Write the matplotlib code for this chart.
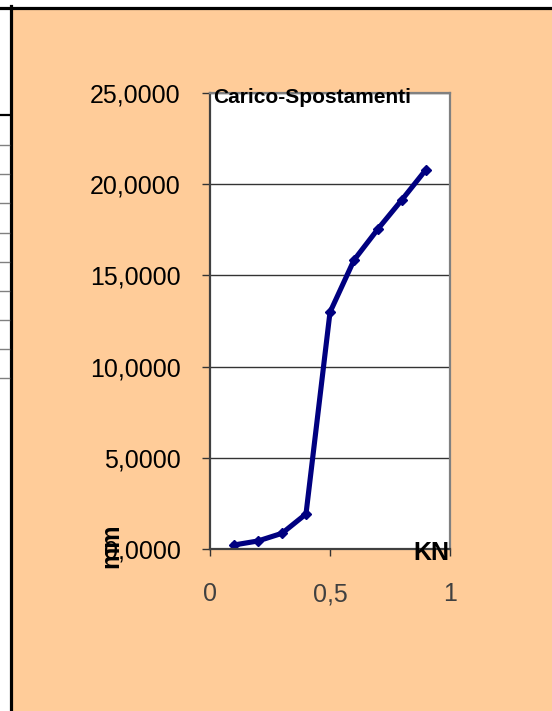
import matplotlib
matplotlib.use("Agg")
import matplotlib.pyplot as plt
from matplotlib.patches import Rectangle
from matplotlib.lines import Line2D

plt.rcParams['font.family'] = ['Liberation Sans', 'DejaVu Sans']

# data
carico = [0.1, 0.2, 0.3, 0.4, 0.5, 0.6, 0.7, 0.8, 0.9]
spostamenti = [0.22, 0.44, 0.86, 1.92, 12.98, 15.84, 17.55, 19.15, 20.8]
y_ticks = [0, 5, 10, 15, 20, 25]
y_labels = ['0,0000', '5,0000', '10,0000', '15,0000', '20,0000', '25,0000']
x_ticks = [0, 0.5, 1]
x_labels = ['0', '0,5', '1']

W, H = 552, 711
fig = plt.figure(figsize=(W / 100, H / 100), dpi=100)
fig.patch.set_facecolor('#FFCC99')

def fx(x):
    return x / W

def fy(y):
    return 1 - y / H

# spreadsheet bits around the chart
fig.add_artist(Rectangle((0, 0), fx(10), 1, transform=fig.transFigure,
                         facecolor='white', edgecolor='none'))
fig.add_artist(Rectangle((0, fy(7)), 1, 7 / H, transform=fig.transFigure,
                         facecolor='white', edgecolor='none'))
fig.add_artist(Line2D([0, 1], [fy(7.5), fy(7.5)], transform=fig.transFigure,
                      color='black', lw=2.3))
fig.add_artist(Line2D([fx(10.5), fx(10.5)], [0, fy(6)], transform=fig.transFigure,
                      color='black', lw=2.3))
fig.add_artist(Line2D([0, fx(9)], [fy(115), fy(115)], transform=fig.transFigure,
                      color='black', lw=1.6))
for yy in [144.5, 174, 203, 232.5, 262, 291, 320, 349, 377.5]:
    fig.add_artist(Line2D([0, fx(9)], [fy(yy), fy(yy)], transform=fig.transFigure,
                          color='#808080', lw=1.0))

ax = fig.add_axes([fx(210), fy(549), 240 / W, (549 - 93) / H])
ax.set_facecolor('white')
ax.plot(carico, spostamenti, color='#000080', lw=3.7, marker='D', ms=5,
        solid_joinstyle='round')
ax.set_xlim(0, 1)
ax.set_ylim(0, 25)
ax.set_yticks(y_ticks)
ax.set_yticklabels(y_labels)
ax.set_xticks(x_ticks)
ax.set_xticklabels(x_labels)
ax.yaxis.grid(True, color='#333333', lw=1)
ax.set_axisbelow(True)
ax.tick_params(axis='y', direction='out', length=6, width=1, pad=15,
               labelsize=18, labelcolor='black', color='#333333')
ax.tick_params(axis='x', direction='out', length=5, width=1, pad=19,
               labelsize=18, labelcolor='#404040', color='#333333')
for side in ['top', 'right']:
    ax.spines[side].set_color('#808080')
    ax.spines[side].set_linewidth(1.6)
for side in ['left', 'bottom']:
    ax.spines[side].set_color('#404040')
    ax.spines[side].set_linewidth(1.6)

ax.text(0.012, 0.978, 'Carico-Spostamenti', transform=ax.transAxes,
        ha='left', va='baseline', fontsize=15, fontweight='bold')
ax.text(0.996, -0.024, 'KN', transform=ax.transAxes,
        ha='right', va='baseline', fontsize=18, fontweight='bold')
fig.text(fx(123), fy(545.5), 'mm', rotation=90, ha='right', va='center',
         fontsize=18, fontweight='bold')

fig.savefig('out.png', dpi=100, facecolor=fig.get_facecolor())
